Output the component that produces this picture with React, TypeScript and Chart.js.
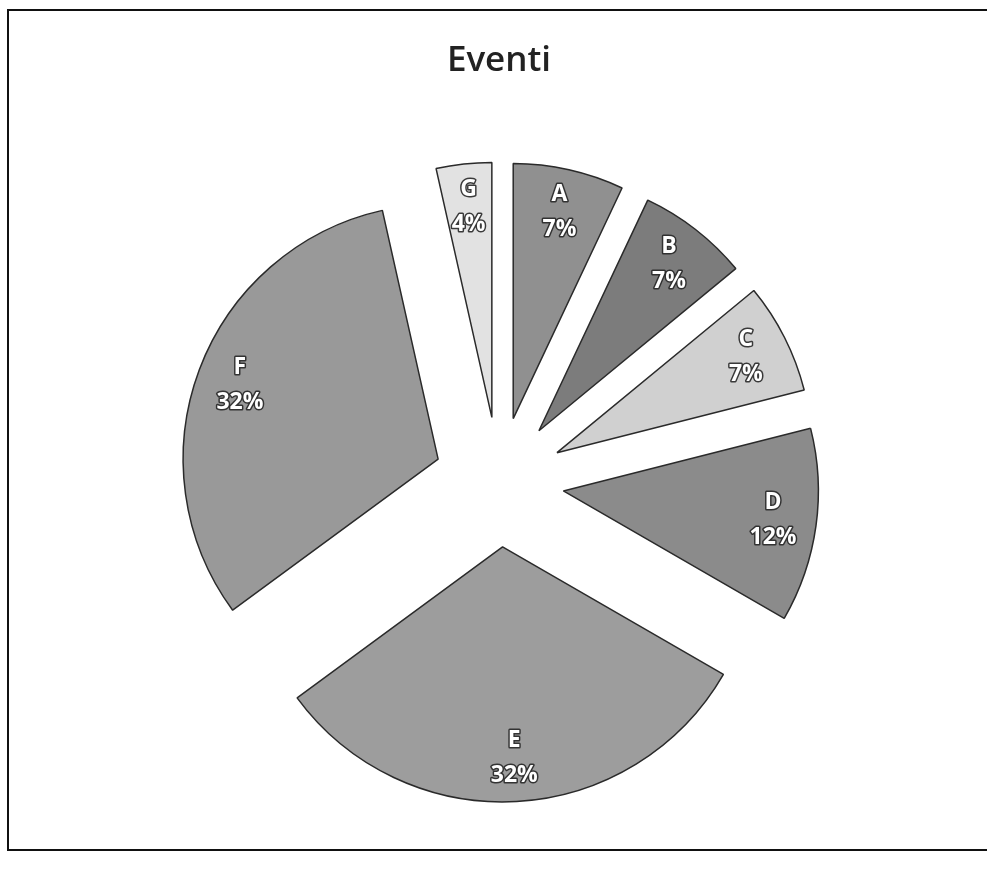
import React, { useEffect, useRef } from "react";
import { Chart, registerables, ArcElement } from "chart.js";

Chart.register(...registerables);

const categories = ["A", "B", "C", "D", "E", "F", "G"];
const values = [4, 4, 4, 7, 18, 18, 2];
const sliceColors = ["#909090", "#7c7c7c", "#d0d0d0", "#8b8b8b", "#9d9d9d", "#999999", "#e2e2e2"];
const chartTitle = "Eventi";
const EXPLODE = 65;

const origArcDraw = (ArcElement.prototype as any).draw;

// Explode slices by a pure translation (no radius growth) along each bisector
const explodePlugin = {
  id: "explodeSlices",
  beforeDatasetsDraw(chart: any) {
    const meta = chart.getDatasetMeta(0);
    meta.data.forEach((arc: any) => {
      if (arc.__exploded) return;
      arc.__exploded = true;
      arc.draw = function (ctx: CanvasRenderingContext2D) {
        const mid = (this.startAngle + this.endAngle) / 2;
        ctx.save();
        ctx.translate(Math.cos(mid) * EXPLODE, Math.sin(mid) * EXPLODE);
        const real = this.options;
        this.options = { ...real, offset: 0 };
        origArcDraw.call(this, ctx);
        this.options = real;
        ctx.restore();
      };
    });
  },
};

const labelPlugin = {
  id: "sliceLabels",
  afterDatasetsDraw(chart: any) {
    const meta = chart.getDatasetMeta(0);
    const ds = chart.data.datasets[0];
    const total = (ds.data as number[]).reduce((a, b) => a + b, 0);
    const ctx = chart.ctx;
    ctx.save();
    ctx.font = "bold 23px 'Open Sans', 'DejaVu Sans', sans-serif";
    ctx.textAlign = "center";
    ctx.textBaseline = "middle";
    ctx.lineJoin = "round";
    meta.data.forEach((arc: any, i: number) => {
      const p = arc.getProps(["x", "y", "startAngle", "endAngle", "outerRadius"], true);
      const mid = (p.startAngle + p.endAngle) / 2;
      const d = EXPLODE + p.outerRadius * 0.83;
      const cx = p.x + Math.cos(mid) * d;
      const cy = p.y + Math.sin(mid) * d;
      const pct = Math.round((values[i] / total) * 100) + "%";
      const lines = [categories[i], pct];
      lines.forEach((t, k) => {
        const y = cy + (k - 0.5) * 35;
        ctx.strokeStyle = "rgba(40,40,40,0.9)";
        ctx.lineWidth = 3;
        ctx.strokeText(t, cx, y);
        ctx.fillStyle = "#ffffff";
        ctx.fillText(t, cx, y);
      });
    });
    ctx.restore();
  },
};

export default function App() {
  const ref = useRef<HTMLCanvasElement | null>(null);
  useEffect(() => {
    if (!ref.current) return;
    const chart = new Chart(ref.current, {
      type: "pie",
      data: {
        labels: categories,
        datasets: [
          {
            data: values,
            backgroundColor: sliceColors,
            borderColor: "#2a2a2a",
            borderWidth: 1.5,
            radius: 255,
          } as any,
        ],
      },
      options: {
        responsive: false,
        animation: false,
        layout: { padding: { left: 11, right: 0, top: 0, bottom: 6 } },
        plugins: {
          legend: { display: false },
          tooltip: { enabled: false },
          title: {
            display: true,
            text: chartTitle,
            color: "#222222",
            font: { family: "'Open Sans', 'DejaVu Sans', sans-serif", size: 35, weight: "600" },
            padding: { top: 40, bottom: 11 },
          },
        },
      },
      plugins: [explodePlugin, labelPlugin],
    });
    return () => chart.destroy();
  }, []);
  return (
    <div style={{ position: "absolute", left: 0, top: 0, width: 987, height: 877, overflow: "hidden", background: "#fff" }}>
      <div
        style={{
          position: "absolute",
          left: 7,
          top: 9,
          width: 985,
          height: 838,
          borderLeft: "2px solid #111",
          borderTop: "2px solid #111",
          borderBottom: "2px solid #111",
        }}
      />
      <canvas ref={ref} width={987} height={877} style={{ position: "absolute", left: 0, top: 0 }} />
    </div>
  );
}
